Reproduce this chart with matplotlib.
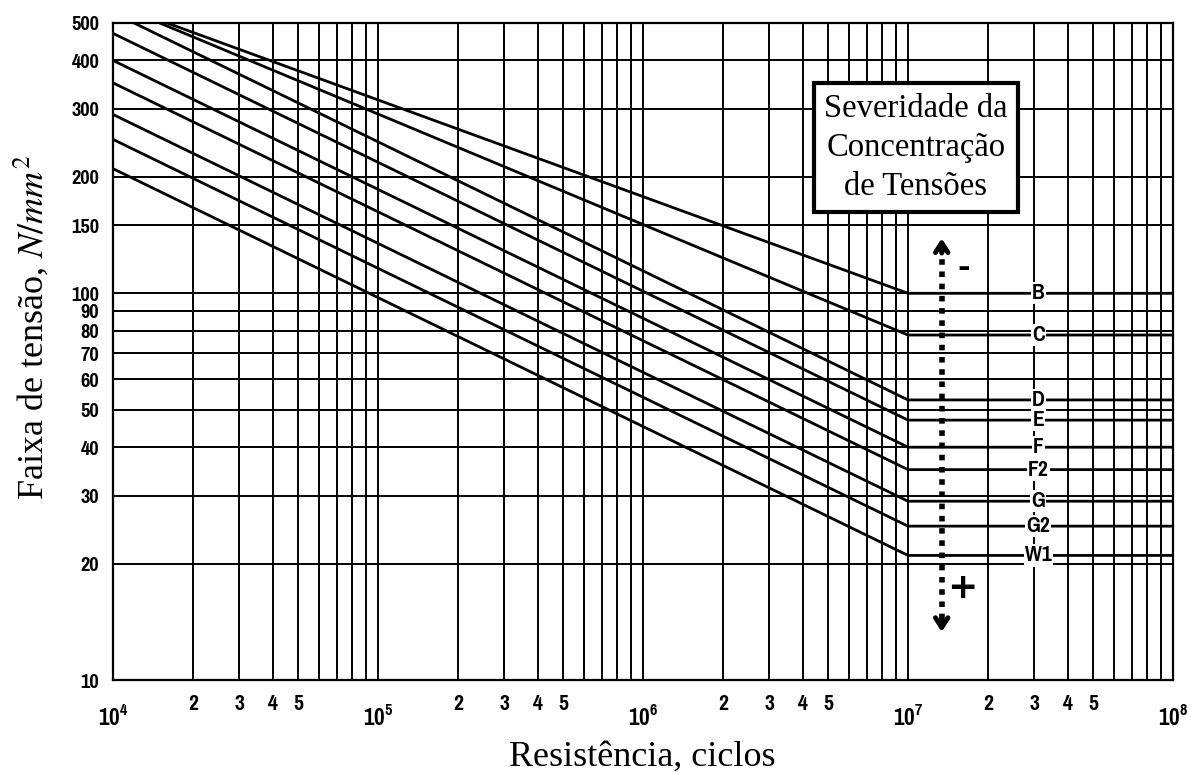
import matplotlib
matplotlib.use("Agg")
import matplotlib.pyplot as plt
import matplotlib.ticker as ticker
from matplotlib import font_manager as fm
import numpy as np

# Classes de detalhe (curvas S-N)
classes = ["B", "C", "D", "E", "F", "F2", "G", "G2", "W1"]
n_start = [1.6e4, 1.5e4, 1.2e4, 1e4, 1e4, 1e4, 1e4, 1e4, 1e4]
s_start = [500, 500, 500, 470, 400, 350, 290, 250, 210]
n_knee = 1e7
s_knee = [100, 78, 53, 47, 40, 35, 29, 25, 21]
n_end = 1e8

y_ticks = [10, 20, 30, 40, 50, 60, 70, 80, 90, 100, 150, 200, 300, 400, 500]
x_decades = [1e4, 1e5, 1e6, 1e7, 1e8]
minor_shown = [2, 3, 4, 5]

# fonte estreita para os números (se houver alguma instalada)
narrow = None
for f in fm.fontManager.ttflist:
    nm = f.name.lower()
    if "narrow" in nm or "condensed" in nm or f.stretch in ("condensed", "semi-condensed", "extra-condensed"):
        if narrow is None or "narrow" in nm:
            narrow = f
tick_family = narrow.name if narrow else "DejaVu Sans"
tick_stretch = narrow.stretch if narrow else "normal"
tick_font = dict(family=tick_family, stretch=tick_stretch, weight="bold")
plt.rcParams["mathtext.fontset"] = "stix"

fig = plt.figure(figsize=(11.95, 7.74), dpi=100)
ax = fig.add_axes([0.0946, 0.1214, 0.8870, 0.8489])
ax.set_xscale("log")
ax.set_yscale("log")
ax.set_xlim(1e4, 1e8)
ax.set_ylim(10, 500)


def minor_label(v, pos):
    d = int(round(v / 10 ** np.floor(np.log10(v) + 1e-9)))
    return str(d) if d in minor_shown else ""


# grelha
ax.set_xticks(x_decades)
ax.set_xticklabels([r"$\mathregular{10^{%d}}$" % int(np.log10(v)) for v in x_decades])
ax.xaxis.set_minor_locator(ticker.LogLocator(base=10, subs=np.arange(2, 10)))
ax.xaxis.set_minor_formatter(ticker.FuncFormatter(minor_label))
ax.set_yticks(y_ticks)
ax.set_yticklabels([str(v) for v in y_ticks])
ax.yaxis.set_minor_locator(ticker.NullLocator())
ax.grid(which="both", color="black", linewidth=1.4)
ax.tick_params(axis="x", which="major", length=0, pad=17, labelsize=18)
ax.tick_params(axis="x", which="minor", length=0, pad=10, labelsize=17)
ax.tick_params(axis="y", length=0, pad=10, labelsize=16)
for lab in ax.get_xticklabels(which="both") + ax.get_yticklabels():
    lab.set_fontfamily(tick_family)
    lab.set_fontstretch(tick_stretch)
    lab.set_fontweight("bold")
for sp in ax.spines.values():
    sp.set_linewidth(1.6)

# curvas
for name, n0, s0, sk in zip(classes, n_start, s_start, s_knee):
    ax.plot([n0, n_knee, n_end], [s0, sk, sk], color="black", linewidth=2.0,
            solid_joinstyle="miter", zorder=3)
    ax.text(3.1e7, sk, name, ha="center", va="center", fontsize=17, zorder=5,
            bbox=dict(facecolor="white", edgecolor="none", pad=0.8), **tick_font)

# seta de severidade
ax.plot([1.34e7, 1.34e7], [132, 14.2], color="black", linestyle=(0, (1, 1.2)),
        linewidth=4, zorder=4)
ax.annotate("", xy=(1.34e7, 141), xytext=(1.34e7, 125),
            arrowprops=dict(arrowstyle="->,head_length=0.7,head_width=0.45",
                            lw=3.5, color="black"), zorder=4)
ax.annotate("", xy=(1.34e7, 13.1), xytext=(1.34e7, 14.8),
            arrowprops=dict(arrowstyle="->,head_length=0.7,head_width=0.45",
                            lw=3.5, color="black"), zorder=4)
ax.text(1.62e7, 116, "-", ha="center", va="center", fontsize=22,
        fontweight="bold", family="DejaVu Sans")
ax.text(1.6e7, 17.3, "+", ha="center", va="center", fontsize=26,
        fontweight="bold", family="DejaVu Sans")

ax.text(0.7575, 0.8105, "Severidade da\nConcentração\nde Tensões",
        transform=ax.transAxes, ha="center", va="center", fontsize=23.5,
        family="Liberation Serif", linespacing=1.37, zorder=6,
        bbox=dict(facecolor="white", edgecolor="black", linewidth=3,
                  boxstyle="square,pad=0.3"))

fig.text(0.5376, 0.022, "Resistência, ciclos", family="Liberation Serif",
         fontsize=26, ha="center", va="center")
fig.text(0.026, 0.577, r"Faixa de tensão, $N/mm^2$", family="Liberation Serif",
         fontsize=26, ha="center", va="center", rotation=90)

fig.savefig("out.png", dpi=100)
